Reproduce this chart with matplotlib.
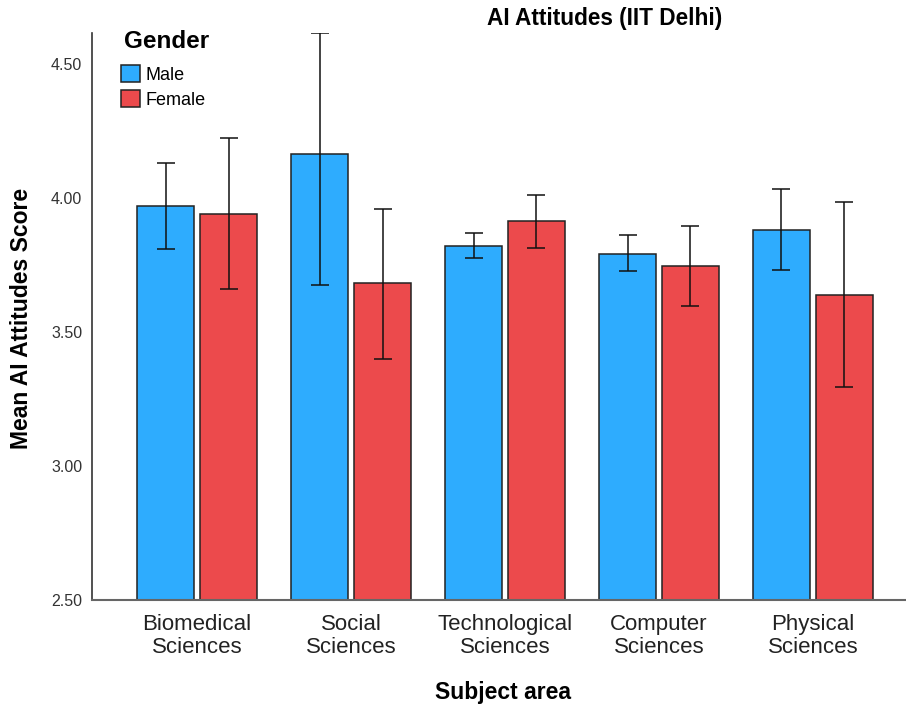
import matplotlib
matplotlib.use("Agg")
import matplotlib.pyplot as plt
import numpy as np

plt.rcParams["font.family"] = ["Liberation Sans", "DejaVu Sans"]

# ---------------------------------------------------------------------------
# Data (mean score with error bar limits)
# ---------------------------------------------------------------------------
CATEGORIES = ["Biomedical\nSciences", "Social\nSciences", "Technological\nSciences",
              "Computer\nSciences", "Physical\nSciences"]

MALE_MEAN = [3.972, 4.164, 3.821, 3.793, 3.881]
MALE_LO   = [3.811, 3.677, 3.776, 3.727, 3.732]
MALE_HI   = [4.132, 4.618, 3.869, 3.863, 4.034]

FEMALE_MEAN = [3.940, 3.683, 3.914, 3.748, 3.640]
FEMALE_LO   = [3.661, 3.399, 3.814, 3.597, 3.295]
FEMALE_HI   = [4.226, 3.961, 4.011, 3.896, 3.985]

YTICKS = [2.50, 3.00, 3.50, 4.00, 4.50]

BLUE = "#2EACFE"
RED = "#EC4A4C"

x = np.arange(len(CATEGORIES))
width = 0.37
off = 0.2045

fig = plt.figure(figsize=(9.06, 7.07), dpi=100)
ax = fig.add_axes([92 / 906, 107 / 707, 814 / 906, 567 / 707])


def draw(xpos, mean, lo, hi, colour, label):
    mean = np.array(mean)
    yerr = [mean - np.array(lo), np.array(hi) - mean]
    ax.bar(xpos, mean - 2.5, width, bottom=2.5, color=colour, edgecolor="#222222",
           linewidth=1.1, label=label, zorder=2)
    ax.errorbar(xpos, mean, yerr=yerr, fmt="none", ecolor="#111111", elinewidth=1.1,
                capsize=6.2, capthick=1.1, zorder=3)


draw(x - off, MALE_MEAN, MALE_LO, MALE_HI, BLUE, "Male")
draw(x + off, FEMALE_MEAN, FEMALE_LO, FEMALE_HI, RED, "Female")

ax.set_xlim(-0.682, 4.604)
ax.set_ylim(2.5, 4.617)
ax.set_yticks(YTICKS)
ax.set_yticklabels([f"{t:.2f}" for t in YTICKS], fontsize=11.5, color="#333333")
ax.set_xticks(x)
ax.set_xticklabels(CATEGORIES, fontsize=16, color="#222222", linespacing=1.12)
ax.tick_params(axis="both", length=0)
ax.tick_params(axis="y", pad=7)
ax.tick_params(axis="x", pad=10)

for side in ["top", "right"]:
    ax.spines[side].set_visible(False)
ax.spines["left"].set_color("#333333")
ax.spines["bottom"].set_color("#666666")
ax.spines["left"].set_linewidth(1.2)
ax.spines["bottom"].set_linewidth(1.5)

fig.text(22 / 906, 1 - 318 / 707, "Mean AI Attitudes Score", rotation=90,
         ha="center", va="center", fontsize=16.5, fontweight="bold")
fig.text(503 / 906, 1 - 692 / 707, "Subject area", ha="center", va="center",
         fontsize=16.5, fontweight="bold")
fig.text(605 / 906, 1 - 18 / 707, "AI Attitudes (IIT Delhi)", ha="center", va="center",
         fontsize=16.3, fontweight="bold")

# legend title drawn separately so the gap to the entries matches
fig.text(124 / 906, 1 - 41 / 707, "Gender", ha="left", va="center",
         fontsize=17.5, fontweight="bold")
ax.legend(loc="upper left", bbox_to_anchor=(121 / 906, 1 - 65 / 707),
          bbox_transform=fig.transFigure, frameon=False,
          fontsize=13, handlelength=1.05, handleheight=1.05,
          handletextpad=0.3, labelspacing=0.38, borderaxespad=0, borderpad=0)

fig.savefig("out.png", dpi=100)
